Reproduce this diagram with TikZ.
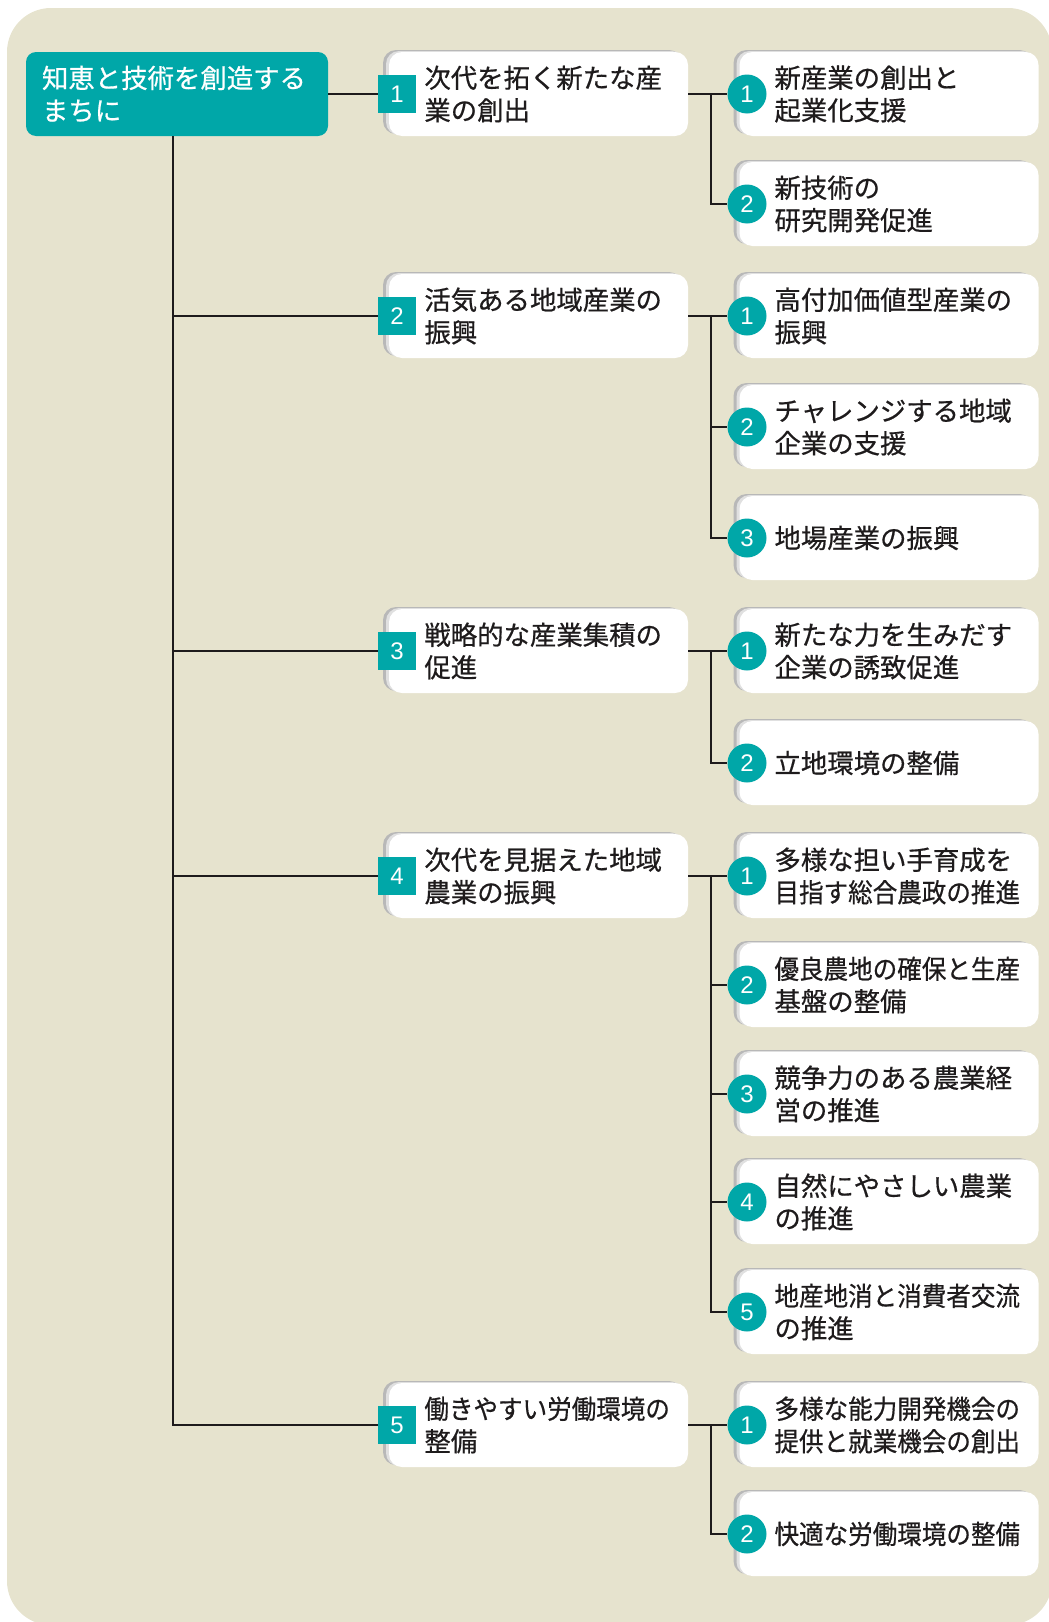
\documentclass[tikz,border=0pt]{standalone}
\usepackage{fontspec}
\usepackage{graphicx}
\setmainfont{Noto Sans CJK JP}[UprightFeatures={FakeBold=0.6}]
\newfontfamily\numfont{Liberation Sans}
\usetikzlibrary{positioning,shadows}

\definecolor{tealbox}{RGB}{0,167,168}
\definecolor{paper}{RGB}{230,227,206}
\definecolor{ink}{RGB}{30,27,28}
\newcommand{\narrowline}[1]{\scalebox{0.93}[1]{#1}}

\tikzset{
  itembox/.style={fill=white, rounded corners=6.5pt, minimum width=149.5pt,
    minimum height=42pt, inner sep=0pt,
    drop shadow={shadow xshift=-3pt, shadow yshift=1pt, opacity=1, fill=black!28},
    drop shadow={shadow xshift=-1.5pt, shadow yshift=0.5pt, opacity=1, fill=black!12}},
  rootbox/.style={fill=tealbox, rounded corners=5pt, text width=135pt,
    inner xsep=8pt, minimum height=42pt, align=left, text=white,
    font=\fontsize{13.2}{16.25}\selectfont},
  itemtext/.style={align=left, inner sep=0pt, text=ink,
    font=\fontsize{13.2}{16.25}\selectfont},
  numsq/.style={fill=tealbox, text=white, minimum size=19pt, inner sep=0pt,
    font=\numfont\fontsize{12}{12}\selectfont},
  numcirc/.style={circle, fill=tealbox, text=white, minimum size=19.5pt,
    inner sep=0pt, font=\numfont\fontsize{12}{12}\selectfont},
  conn/.style={draw=ink, line width=1pt}
}

\begin{document}
\begin{tikzpicture}[x=0.5pt, y=-0.5pt]
  \useasboundingbox (0,0) rectangle (1049,1622);

  % Background
  \fill[paper, rounded corners=22pt] (7,8) rectangle (1052,1625);

  % Root
  \node[rootbox] (root) at (177,94) {知恵と技術を創造する\\まちに};

  % Main policies
  \foreach \n/\y/\txt in {
      1/94/{次代を拓く新たな産\\業の創出},
      2/316/{活気ある地域産業の\\振興},
      3/651/{戦略的な産業集積の\\促進},
      4/876/{次代を見据えた地域\\農業の振興},
      5/1425/{\narrowline{働きやすい労働環境の}\\整備}} {
    \node[itembox] (b\n) at (538.5,\y) {};
    \node[numsq] (n\n) at (397,\y) {\n};
    \node[itemtext, right=3.8pt of n\n] (t\n) {\txt};
  }

  % Measures
  \foreach \idx/\y/\k/\txt in {
      11/94/1/{新産業の創出と\\起業化支援},
      12/204/2/{新技術の\\研究開発促進},
      21/316/1/{高付加価値型産業の\\振興},
      22/427/2/{チャレンジする地域\\企業の支援},
      23/538/3/{地場産業の振興},
      31/651/1/{新たな力を生みだす\\企業の誘致促進},
      32/763/2/{立地環境の整備},
      41/876/1/{多様な担い手育成を\\\narrowline{目指す総合農政の推進}},
      42/985/2/{\narrowline{優良農地の確保と生産}\\基盤の整備},
      43/1094/3/{競争力のある農業経\\営の推進},
      44/1202/4/{自然にやさしい農業\\の推進},
      45/1312/5/{\narrowline{地産地消と消費者交流}\\の推進},
      51/1425/1/{\narrowline{多様な能力開発機会の}\\\narrowline{提供と就業機会の創出}},
      52/1534/2/{\narrowline{快適な労働環境の整備}}} {
    \node[itembox] (s\idx) at (889,\y) {};
    \node[numcirc] (c\idx) at (747,\y) {\k};
    \node[itemtext, right=3.6pt of c\idx] (u\idx) {\txt};
  }

  % Connectors
  \draw[conn] (root.east) -- (n1.west);
  \foreach \n in {2,...,5}
    \draw[conn] ([xshift=-2pt]root.south) |- (n\n.west);
  \foreach \n/\kids in {1/{2}, 2/{2,3}, 3/{2}, 4/{2,3,4,5}, 5/{2}} {
    \draw[conn] (b\n.east) -- (c\n1.west);
    \foreach \m in \kids
      \draw[conn] ([xshift=11.5pt]b\n.east) |- (c\n\m.west);
  }
\end{tikzpicture}
\end{document}
